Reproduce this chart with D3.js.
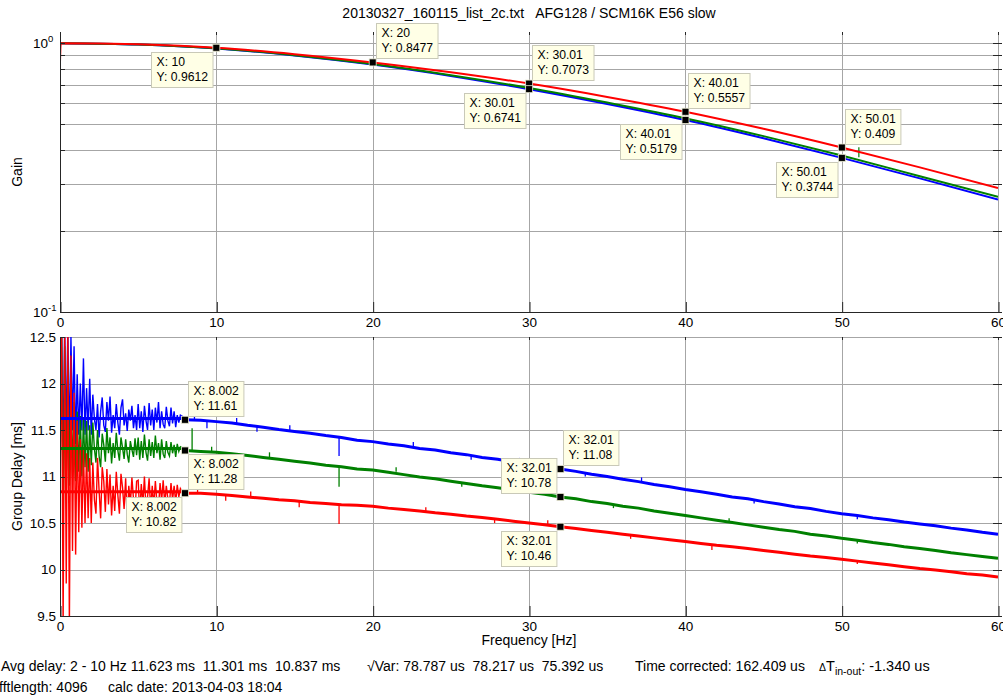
<!DOCTYPE html>
<html><head><meta charset="utf-8">
<script src="https://cdn.jsdelivr.net/npm/d3@7"></script>
<style>
body{margin:0;background:#fff;}
svg{display:block;}
text{white-space:pre;}
</style></head><body>
<svg id="c" width="1003" height="696" xml:space="preserve"></svg>
<script>
// ---------------- DATA ----------------
const titleText = "20130327_160115_list_2c.txt   AFG128 / SCM16K E56 slow";
const xTicks = [0, 10, 20, 30, 40, 50, 60];
const gainMajorTicks = [0.1, 1];
const gainMinorTicks = [0.2, 0.3, 0.4, 0.5, 0.6, 0.7, 0.8, 0.9];
const delayTicks = [9.5, 10, 10.5, 11, 11.5, 12, 12.5];

// Gain vs frequency (read every 5 Hz)
const gainFreqs = [0, 5, 10, 15, 20, 25, 30, 35, 40, 45, 50, 55, 60];
const gainRed   = [1.0, 0.990, 0.9612, 0.910, 0.8477, 0.779, 0.7073, 0.631, 0.5557, 0.480, 0.409, 0.345, 0.289];
const gainGreen = [1.0, 0.989, 0.957, 0.902, 0.836, 0.760, 0.681, 0.601, 0.526, 0.451, 0.382, 0.320, 0.268];
const gainBlue  = [1.0, 0.988, 0.955, 0.900, 0.832, 0.755, 0.6741, 0.594, 0.5179, 0.443, 0.3744, 0.314, 0.262];
const redGainAtZero = 0.85;            // red trace starts low at 0 Hz
const greenGainSpikes = [[51.1, 0.376, 0.41]];   // [freq, base, tip]

// Group delay, 0 - 8 Hz (every 0.1 Hz, noisy)
const lowFreqs = d3.range(81).map(i => i / 10);
const delayBlueLow = [11.62,12.6,11.2,12.6,11.4,12.6,11.3,12.5,11.5,12.4,
  11.35,12.1,11.45,12.0,11.5,12.27,11.45,11.95,11.5,12.05,
  11.45,11.88,11.62,11.5,11.78,11.42,11.7,11.85,11.55,11.48,
  11.8,11.6,11.86,11.47,11.66,11.52,11.78,11.58,11.45,11.74,
  11.83,11.55,11.68,11.49,11.72,11.6,11.76,11.52,11.66,11.5,
  11.78,11.52,11.7,11.48,11.76,11.6,11.5,11.79,11.55,11.72,
  11.5,11.74,11.58,11.8,11.52,11.7,11.56,11.52,11.75,11.6,
  11.54,11.74,11.57,11.7,11.53,11.66,11.58,11.66,11.65,11.64,11.61];
const delayGreenLow = [11.30,12.6,10.4,12.4,10.8,12.2,10.9,12.0,11.0,11.8,
  10.95,11.7,11.05,11.65,11.0,11.62,11.1,11.6,11.05,11.55,
  11.12,11.58,11.3,11.15,11.5,11.22,11.1,11.46,11.34,11.16,
  11.52,11.25,11.42,11.14,11.36,11.2,11.47,11.28,11.17,11.42,
  11.31,11.19,11.4,11.24,11.15,11.38,11.29,11.21,11.41,11.23,
  11.42,11.18,11.38,11.2,11.45,11.26,11.17,11.4,11.22,11.37,
  11.2,11.44,11.25,11.36,11.18,11.4,11.24,11.2,11.38,11.26,
  11.22,11.37,11.25,11.34,11.21,11.35,11.27,11.32,11.31,11.3,11.28];
const delayRedLow = [10.84,12.6,9.4,12.6,9.85,12.6,9.4,12.3,10.2,11.9,
  10.16,11.6,10.4,11.4,10.45,11.3,10.5,11.25,10.55,11.2,
  10.5,11.15,10.75,10.6,11.2,10.85,10.55,11.1,10.95,10.62,
  11.08,10.7,11.02,10.58,10.9,10.63,11.05,10.8,10.6,11.03,
  10.88,10.65,10.98,10.52,10.9,10.7,10.99,10.76,10.62,10.95,
  10.96,10.6,10.92,10.7,11.0,10.66,10.78,10.98,10.64,10.9,
  10.68,10.95,10.72,10.66,10.93,10.74,10.96,10.7,10.9,10.76,
  10.7,10.93,10.75,10.9,10.72,10.91,10.78,10.87,10.84,10.83,10.82];

// Group delay, 9 - 60 Hz (every 1 Hz)
const highFreqs = d3.range(9, 61);
const delayBlueHigh = [11.605,11.59,11.575,11.55,11.53,11.505,11.485,11.465,11.44,11.42,
  11.39,11.375,11.35,11.33,11.30,11.285,11.255,11.235,11.205,11.185,
  11.155,11.135,11.105,11.08,11.055,11.025,11.0,10.97,10.945,10.915,
  10.89,10.86,10.835,10.81,10.78,10.76,10.73,10.705,10.675,10.655,
  10.625,10.60,10.58,10.555,10.535,10.51,10.49,10.47,10.445,10.425,10.40,10.38];
const delayGreenHigh = [11.27,11.26,11.245,11.225,11.205,11.185,11.165,11.145,11.12,11.105,
  11.08,11.07,11.045,11.02,10.995,10.975,10.95,10.925,10.90,10.88,
  10.855,10.83,10.81,10.78,10.76,10.73,10.71,10.68,10.66,10.63,
  10.605,10.58,10.555,10.53,10.505,10.48,10.455,10.43,10.41,10.38,
  10.36,10.335,10.315,10.29,10.27,10.245,10.225,10.205,10.18,10.16,10.14,10.12];
const delayRedHigh = [10.82,10.81,10.795,10.78,10.765,10.75,10.74,10.72,10.71,10.695,
  10.69,10.68,10.66,10.645,10.63,10.61,10.595,10.575,10.56,10.54,
  10.52,10.50,10.48,10.46,10.44,10.42,10.40,10.38,10.36,10.34,
  10.32,10.30,10.28,10.26,10.245,10.225,10.205,10.185,10.165,10.145,
  10.13,10.11,10.09,10.07,10.05,10.03,10.01,9.995,9.975,9.955,9.94,9.92];
// spikes: [freq, base, tip]
const blueDelaySpikes  = [[8.6, 11.60, 11.66], [9.4, 11.60, 11.52], [11.3, 11.57, 11.63], [12.6, 11.54, 11.48],
  [14.7, 11.49, 11.55], [17.85, 11.43, 11.22], [22.6, 11.32, 11.37], [26.3, 11.23, 11.18],
  [29.4, 11.145, 11.2], [33.6, 11.04, 11.0], [37.2, 10.94, 10.99], [44.4, 10.75, 10.71], [51.0, 10.58, 10.54]];
const greenDelaySpikes = [[8.45, 11.28, 11.52], [9.7, 11.26, 11.32], [10.9, 11.25, 11.19], [13.4, 11.2, 11.26],
  [17.85, 11.11, 10.89], [21.5, 11.05, 11.1], [25.7, 10.94, 10.89], [30.6, 10.82, 10.87],
  [35.4, 10.7, 10.66], [42.8, 10.51, 10.55], [51.0, 10.315, 10.28]];
const redDelaySpikes   = [[8.8, 10.82, 10.88], [10.6, 10.8, 10.74], [12.2, 10.78, 10.84], [15.3, 10.73, 10.67],
  [17.85, 10.70, 10.49], [23.4, 10.62, 10.67], [27.8, 10.545, 10.5], [31.2, 10.475, 10.53],
  [36.5, 10.37, 10.33], [41.7, 10.27, 10.21], [51.0, 10.09, 10.06]];

// Average delay (2 - 10 Hz) lines drawn over 0 - 8 Hz
const avgDelay = [11.623, 11.301, 10.837];   // blue, green, red
const avgSpan = [0, 8];

// Data tips
const gainTipX = [10, 20, 30.01, 30.01, 40.01, 40.01, 50.01, 50.01];
const gainTipY = [0.9612, 0.8477, 0.7073, 0.6741, 0.5557, 0.5179, 0.409, 0.3744];
const gainTipLabelX = ["10", "20", "30.01", "30.01", "40.01", "40.01", "50.01", "50.01"];
const gainTipLabelY = ["0.9612", "0.8477", "0.7073", "0.6741", "0.5557", "0.5179", "0.409", "0.3744"];
const delayTipX = [8.002, 8.002, 8.002, 32.01, 32.01, 32.01];
const delayTipY = [11.61, 11.28, 10.82, 11.08, 10.78, 10.46];
const delayTipLabelX = ["8.002", "8.002", "8.002", "32.01", "32.01", "32.01"];
const delayTipLabelY = ["11.61", "11.28", "10.82", "11.08", "10.78", "10.46"];

// ---------------- LAYOUT ----------------
const svg = d3.select("#c");
const L = 60, R = 998;
const topT = 32, topB = 312, botT = 337, botB = 616;
const BLUE = "#0000ff", GREEN = "#008000", RED = "#ff0000";
const gridC = "#a6a6a6", axisC = "#262626";
const fReg = '"Liberation Sans", Arial, Helvetica, sans-serif';

const x = d3.scaleLinear().domain([0, 60]).range([L, R]);
const yG = d3.scaleLog().domain([0.1, 1.1]).range([topB, topT]);
const yD = d3.scaleLinear().domain([9.5, 12.5]).range([botB, botT]);
const snap = v => Math.round(v) + 0.5;

const defs = svg.append("defs");
defs.append("clipPath").attr("id", "cTop").append("rect")
  .attr("x", L).attr("y", topT).attr("width", R - L).attr("height", topB - topT);
defs.append("clipPath").attr("id", "cBot").append("rect")
  .attr("x", L).attr("y", botT).attr("width", R - L).attr("height", botB - botT);

// ---------- grids ----------
function vGrid(y0, y1) {
  svg.append("g").selectAll("line").data(xTicks).join("line")
    .attr("x1", d => snap(x(d))).attr("x2", d => snap(x(d)))
    .attr("y1", y0).attr("y2", y1).attr("stroke", gridC).attr("stroke-width", 1);
}
vGrid(topT, topB);
vGrid(botT, botB);
svg.append("g").selectAll("line").data(gainMinorTicks.concat([1])).join("line")
  .attr("x1", L).attr("x2", R).attr("y1", d => snap(yG(d))).attr("y2", d => snap(yG(d)))
  .attr("stroke", gridC);
svg.append("g").selectAll("line").data(delayTicks).join("line")
  .attr("x1", L).attr("x2", R).attr("y1", d => snap(yD(d))).attr("y2", d => snap(yD(d)))
  .attr("stroke", gridC);

// ---------- top curves ----------
const topG = svg.append("g").attr("clip-path", "url(#cTop)");
const gLine = d3.line().x(d => x(d[0])).y(d => yG(d[1])).curve(d3.curveMonotoneX);
const gainSeries = [
  {c: BLUE, pts: gainFreqs.map((f, i) => [f, gainBlue[i]]), spikes: []},
  {c: GREEN, pts: gainFreqs.map((f, i) => [f, gainGreen[i]]), spikes: greenGainSpikes},
  {c: RED, pts: [[0, redGainAtZero], [0.05, gainRed[0]]].concat(gainFreqs.slice(1).map((f, i) => [f, gainRed[i + 1]])), spikes: []}
];
gainSeries.forEach(s => {
  topG.append("path").attr("d", gLine(s.pts)).attr("fill", "none")
    .attr("stroke", s.c).attr("stroke-width", 2);
  s.spikes.forEach(sp => topG.append("line")
    .attr("x1", x(sp[0])).attr("x2", x(sp[0])).attr("y1", yG(sp[1])).attr("y2", yG(sp[2]))
    .attr("stroke", s.c).attr("stroke-width", 1.2));
});

// ---------- bottom curves ----------
const botG = svg.append("g").attr("clip-path", "url(#cBot)");
const dLine = d3.line().x(d => x(d[0])).y(d => yD(d[1]));
const delaySeries = [
  {c: BLUE, low: delayBlueLow, high: delayBlueHigh, spikes: blueDelaySpikes, avg: avgDelay[0]},
  {c: GREEN, low: delayGreenLow, high: delayGreenHigh, spikes: greenDelaySpikes, avg: avgDelay[1]},
  {c: RED, low: delayRedLow, high: delayRedHigh, spikes: redDelaySpikes, avg: avgDelay[2]}
];
delaySeries.forEach(s => {
  botG.append("path").attr("d", dLine(lowFreqs.map((f, i) => [f, s.low[i]])))
    .attr("fill", "none").attr("stroke", s.c).attr("stroke-width", 1.4);
  const hp = [[8, s.low[s.low.length - 1]]].concat(highFreqs.map((f, i) => [f, s.high[i]]));
  botG.append("path").attr("d", dLine(hp))
    .attr("fill", "none").attr("stroke", s.c).attr("stroke-width", 3);
  s.spikes.forEach(sp => botG.append("line")
    .attr("x1", x(sp[0])).attr("x2", x(sp[0])).attr("y1", yD(sp[1])).attr("y2", yD(sp[2]))
    .attr("stroke", s.c).attr("stroke-width", 1.3));
});
delaySeries.forEach(s => {
  botG.append("line").attr("x1", x(avgSpan[0])).attr("x2", x(avgSpan[1]))
    .attr("y1", yD(s.avg)).attr("y2", yD(s.avg)).attr("stroke", s.c).attr("stroke-width", 3);
});

// ---------- axes ----------
function xAxis(yPos, yTop) {
  const ax = d3.axisBottom(x).tickValues(xTicks).tickSize(-10).tickSizeOuter(0).tickPadding(5);
  const g = svg.append("g").attr("transform", `translate(0,${snap(yPos) - 0.5})`).call(ax);
  g.select(".domain").attr("stroke", axisC).attr("d", `M${L},0.5H${R}`);
  g.selectAll(".tick line").attr("stroke", axisC).attr("transform", "translate(0.5,0)");
  g.selectAll(".tick text").attr("fill", "#000").attr("font-family", fReg).attr("font-size", 13.5);
  svg.append("g").selectAll("line").data(xTicks).join("line")
    .attr("x1", d => snap(x(d))).attr("x2", d => snap(x(d)))
    .attr("y1", yTop).attr("y2", yTop + 3).attr("stroke", axisC);
}
xAxis(topB, topT);
xAxis(botB, botT);

[[topT, topB], [botT, botB]].forEach(([a, b]) => {
  svg.append("line").attr("x1", L + 0.5).attr("x2", L + 0.5).attr("y1", a).attr("y2", b + 1)
    .attr("stroke", axisC);
});
function yTickMarks(vals, sc, len) {
  svg.append("g").selectAll("line").data(vals).join("line")
    .attr("x1", L).attr("x2", L + len).attr("y1", d => snap(sc(d))).attr("y2", d => snap(sc(d)))
    .attr("stroke", axisC);
  svg.append("g").selectAll("line").data(vals).join("line")
    .attr("x1", R - len).attr("x2", R + 4).attr("y1", d => snap(sc(d))).attr("y2", d => snap(sc(d)))
    .attr("stroke", axisC);
}
yTickMarks(gainMajorTicks.concat(gainMinorTicks), yG, 5);
yTickMarks(delayTicks, yD, 5);

const yAx = d3.axisLeft(yD).tickValues(delayTicks).tickSize(0).tickPadding(4)
  .tickFormat(d3.format("~g"));
const yg = svg.append("g").attr("transform", `translate(${L},0)`).call(yAx);
yg.select(".domain").remove();
yg.selectAll(".tick text").attr("fill", "#000").attr("font-family", fReg).attr("font-size", 13.5);

const exps = {0.1: "-1", 1: "0"};
gainMajorTicks.forEach(v => {
  const t = svg.append("text").attr("x", 33).attr("y", yG(v) + 5)
    .attr("font-family", fReg).attr("font-size", 13.5).attr("fill", "#000");
  t.append("tspan").text("10");
  t.append("tspan").attr("dy", -6).attr("font-size", 9.5).text(exps[v]);
});

// ---------- labels ----------
svg.append("text").attr("x", (L + R) / 2).attr("y", 18).attr("text-anchor", "middle")
  .attr("font-family", fReg).attr("font-size", 14).attr("fill", "#000").text(titleText);
svg.append("text").attr("transform", `translate(22,${(topT + topB) / 2}) rotate(-90)`)
  .attr("text-anchor", "middle").attr("font-family", fReg).attr("font-size", 14).text("Gain");
svg.append("text").attr("transform", `translate(22,${(botT + botB) / 2}) rotate(-90)`)
  .attr("text-anchor", "middle").attr("font-family", fReg).attr("font-size", 14).text("Group Delay [ms]");
svg.append("text").attr("x", (L + R) / 2).attr("y", 645).attr("text-anchor", "middle")
  .attr("font-family", fReg).attr("font-size", 14).text("Frequency [Hz]");

const info = [
  {x: 1, y: 671, t: "Avg delay: 2 - 10 Hz 11.623 ms  11.301 ms  10.837 ms"},
  {x: 367, y: 671, t: "\u221AVar: 78.787 us  78.217 us  75.392 us"},
  {x: 635, y: 671, t: "Time corrected: 162.409 us"},
  {x: -1, y: 692, t: "fftlength: 4096"},
  {x: 108, y: 692, t: "calc date: 2013-04-03 18:04"}
];
info.forEach(d => svg.append("text").attr("x", d.x).attr("y", d.y)
  .attr("font-family", fReg).attr("font-size", 14).attr("fill", "#000").text(d.t));
const dt = svg.append("text").attr("x", 819).attr("y", 671).attr("font-family", fReg)
  .attr("font-size", 14.5).attr("fill", "#000");
dt.append("tspan").attr("font-size", 10.5).text("\u0394");
dt.append("tspan").text("T");
dt.append("tspan").attr("font-size", 10.5).attr("dy", 4).text("in-out");
dt.append("tspan").attr("dy", -4).text(": -1.340 us");

// ---------- data tips ----------
function dataTip(px, py, lx, ly, pos) {
  const g = svg.append("g");
  const t1 = g.append("text").attr("font-family", fReg).attr("font-size", 12.2).attr("fill", "#000").text("X: " + lx);
  const t2 = g.append("text").attr("font-family", fReg).attr("font-size", 12.2).attr("fill", "#000").text("Y: " + ly);
  const w = Math.max(t1.node().getComputedTextLength(), t2.node().getComputedTextLength()) + 10;
  const h = 35;
  let bx, by;
  if (pos === "tr") { bx = px + 3; by = py - 4 - h; }
  else if (pos === "br") { bx = px + 3; by = py + 4; }
  else if (pos === "bl") { bx = px - 4 - w; by = py + 4; }
  else { bx = px - 4 - w; by = py - 4 - h; }
  bx = Math.round(bx) + 0.5; by = Math.round(by) + 0.5;
  g.insert("rect", "text").attr("x", bx).attr("y", by).attr("width", w).attr("height", h)
    .attr("fill", "#ffffe6").attr("stroke", "#c9c9b8").attr("stroke-width", 1);
  t1.attr("x", bx + 5).attr("y", by + 13.5);
  t2.attr("x", bx + 5).attr("y", by + 28.5);
  svg.append("rect").attr("x", px - 3.5).attr("y", py - 3.5).attr("width", 7).attr("height", 7)
    .attr("fill", "#000").attr("stroke", "#e8e8d0").attr("stroke-width", 0.8);
}
const gainTipPos = ["bl", "tr", "tr", "bl", "tr", "bl", "tr", "bl"];
const delayTipPos = ["tr", "br", "bl", "tr", "tl", "bl"];
gainTipX.forEach((v, i) => dataTip(x(v), yG(gainTipY[i]), gainTipLabelX[i], gainTipLabelY[i], gainTipPos[i]));
delayTipX.forEach((v, i) => dataTip(x(v), yD(delayTipY[i]), delayTipLabelX[i], delayTipLabelY[i], delayTipPos[i]));
</script>
</body></html>
